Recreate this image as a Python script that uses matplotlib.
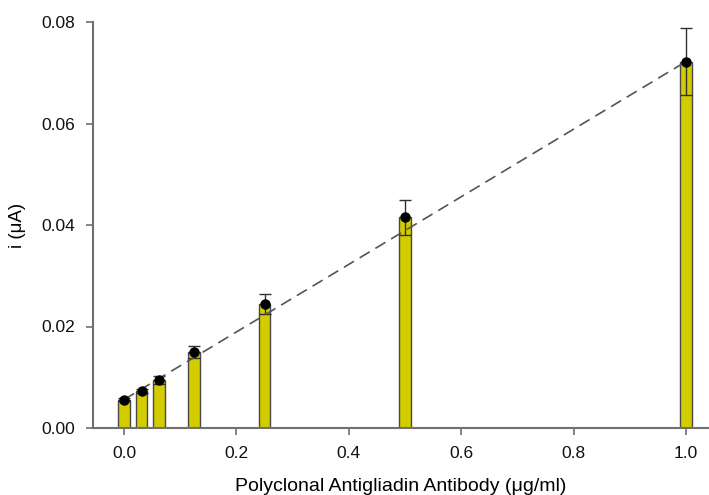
import matplotlib
matplotlib.use('Agg')
import matplotlib.pyplot as plt
import numpy as np

plt.rcParams['font.family'] = ['Liberation Sans', 'DejaVu Sans']

# antibody concentration (ug/ml), mean current (uA) and its error
conc = np.array([0.0, 0.03125, 0.0625, 0.125, 0.25, 0.5, 1.0])
current = np.array([0.0056, 0.0073, 0.0095, 0.0150, 0.0244, 0.0415, 0.0722])
err = np.array([0.0003, 0.0004, 0.0008, 0.0012, 0.0020, 0.0035, 0.0066])
xticks = [0.0, 0.2, 0.4, 0.6, 0.8, 1.0]
yticks = [0.00, 0.02, 0.04, 0.06, 0.08]

fig = plt.figure(figsize=(7.09, 4.95), dpi=100)
ax = fig.add_axes([93/709, 1 - 428/495, 1 - 93/709, (428 - 22)/495])

ax.bar(conc, current, width=0.021, color='#d3cd00', edgecolor='#484848',
       linewidth=1.0, zorder=2)
ax.errorbar(conc, current, yerr=err, fmt='none', ecolor='#303030',
            elinewidth=1.0, capsize=4.5, capthick=1.0, zorder=3)
ax.plot(conc, current, 'o', color='black', markersize=6.5, zorder=4)

# straight line through the lowest and highest concentration
k, b = np.polyfit(conc[[0, -1]], current[[0, -1]], 1)
xs = np.array([conc[0], conc[-1]])
ax.plot(xs, k * xs + b, color='#555555', linewidth=1.2,
        dashes=(7, 4), zorder=3)

ax.set_xlim(-0.0552, 1.041)
ax.set_ylim(0, 0.08)
ax.set_xticks(xticks)
ax.set_xticklabels([f'{t:.1f}' for t in xticks])
ax.set_yticks(yticks)
ax.set_yticklabels([f'{t:.2f}' for t in yticks])

for side in ['top', 'right']:
    ax.spines[side].set_visible(False)
for side in ['left', 'bottom']:
    ax.spines[side].set_color('#707070')
    ax.spines[side].set_linewidth(1.5)
ax.tick_params(direction='out', length=5, width=1.2, color='#707070',
               labelsize=12.5, labelcolor='#111111', pad=8)

ax.set_xlabel('Polyclonal Antigliadin Antibody (\u03bcg/ml)', fontsize=14,
              labelpad=12)
ax.set_ylabel('i (\u03bcA)', fontsize=13.5, labelpad=11)

fig.savefig('out.png', dpi=100)
